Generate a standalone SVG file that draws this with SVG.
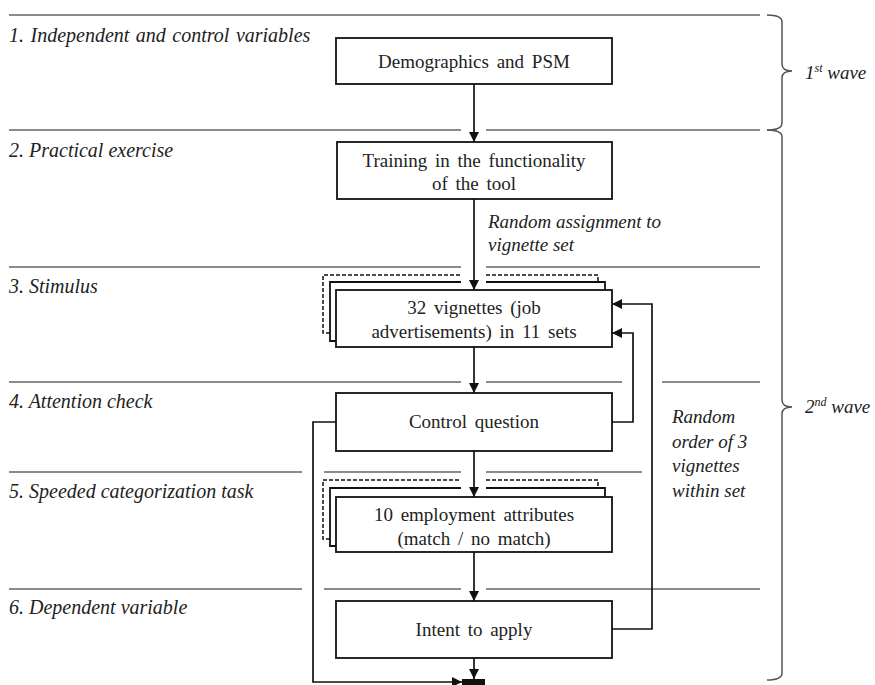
<svg xmlns="http://www.w3.org/2000/svg" width="875" height="685" viewBox="0 0 875 685">
<style>
.sep{stroke:#666;stroke-width:1.5;fill:none}
.brace{stroke:#555;stroke-width:1.5;fill:none}
.box{fill:#fff;stroke:#111;stroke-width:1.8}
.back{fill:none;stroke:#111;stroke-width:1.8}
.dash{fill:none;stroke:#111;stroke-width:1.5;stroke-dasharray:4 2}
.con{fill:none;stroke:#111;stroke-width:1.7}
.arr{marker-end:url(#ah)}
.lbl{font-family:"Liberation Serif","Times New Roman",serif;font-style:italic;font-size:20px;fill:#222}
.bt{font-family:"Liberation Serif","Times New Roman",serif;font-size:19px;fill:#222;text-anchor:middle;word-spacing:3px}
.note{font-family:"Liberation Serif","Times New Roman",serif;font-style:italic;font-size:19px;fill:#222}
</style>
<defs>
<marker id="ah" viewBox="0 0 10 10" refX="10" refY="5" markerUnits="userSpaceOnUse" markerWidth="10" markerHeight="10" orient="auto">
<path d="M0,0 L10,5 L0,10 z" fill="#111"/>
</marker>
</defs>
<rect width="875" height="685" fill="#fff"/>

<g id="separators">
<path class="sep" d="M9 15H760"/>
<path class="sep" d="M9 130H461M486 130H760"/>
<path class="sep" d="M9 267H461M486 267H760"/>
<path class="sep" d="M9 382H461M486 382H622M662 382H760"/>
<path class="sep" d="M9 472H302M324 472H461M486 472H642"/>
<path class="sep" d="M9 589H302M324 589H461M486 589H760"/>
</g>

<g id="stage-labels">
<text class="lbl" x="9" y="42" word-spacing="1.5">1. Independent and control variables</text>
<text class="lbl" x="9" y="157">2. Practical exercise</text>
<text class="lbl" x="9" y="293">3. Stimulus</text>
<text class="lbl" x="9" y="408">4. Attention check</text>
<text class="lbl" x="9" y="498">5. Speeded categorization task</text>
<text class="lbl" x="9" y="614">6. Dependent variable</text>
</g>

<g id="wave1">
<path class="brace" d="M767 15Q782 15 782 22L782 64Q782 71 792 71Q782 71 782 78L782 123Q782 130 767 130"/>
<text class="note" x="805" y="79">1<tspan font-size="12" dy="-7">st</tspan><tspan dy="7"> wave</tspan></text>
</g>
<g id="wave2">
<path class="brace" d="M767 130Q782 130 782 137L782 400Q782 407 792 407Q782 407 782 414L782 673Q782 680 767 680"/>
<text class="note" x="805" y="413">2<tspan font-size="12" dy="-7">nd</tspan><tspan dy="7"> wave</tspan></text>
</g>

<g id="connectors">
<path class="con arr" d="M474 84V142"/>
<path class="con arr" d="M474 199V290"/>
<path class="con arr" d="M474 347V393"/>
<path class="con arr" d="M474 451V497"/>
<path class="con arr" d="M474 552V601"/>
<path class="con arr" d="M474 658V679"/>
<path class="con arr" d="M612 422H633V333H612"/>
<path class="con arr" d="M612 629H652V304H612"/>
<path class="con arr" d="M336 422H313V682H462"/>
<rect x="462" y="679" width="23" height="6" fill="#111"/>
</g>

<g id="notes">
<text class="note" x="488" y="228">Random assignment to</text>
<text class="note" x="488" y="251">vignette set</text>
<text class="note" x="672" y="423">Random</text>
<text class="note" x="672" y="448">order of 3</text>
<text class="note" x="672" y="472">vignettes</text>
<text class="note" x="672" y="497">within set</text>
</g>

<g id="n1">
<rect class="box" x="336" y="38" width="276" height="46"/>
<text class="bt" x="474" y="68">Demographics and PSM</text>
</g>

<g id="n2">
<rect class="box" x="337" y="142" width="275" height="57"/>
<text class="bt" x="474" y="167">Training in the functionality</text>
<text class="bt" x="474" y="190">of the tool</text>
</g>

<g id="n3">
<path class="dash" d="M330 333H323V275H461M486 275H598V282"/>
<path class="back" d="M336 341H330V282H461M486 282H605V290"/>
<rect class="box" x="336" y="290" width="276" height="57"/>
<text class="bt" x="474" y="314">32 vignettes (job</text>
<text class="bt" x="474" y="338">advertisements) in 11 sets</text>
</g>

<g id="n4">
<rect class="box" x="336" y="393" width="276" height="58"/>
<text class="bt" x="474" y="428">Control question</text>
</g>

<g id="n5">
<path class="dash" d="M330 539H323V480H461M486 480H598V488"/>
<path class="back" d="M336 546H330V488H461M486 488H605V497"/>
<rect class="box" x="336" y="497" width="276" height="55"/>
<text class="bt" x="474" y="521">10 employment attributes</text>
<text class="bt" x="474" y="545">(match / no match)</text>
</g>

<g id="n6">
<rect class="box" x="336" y="601" width="276" height="57"/>
<text class="bt" x="474" y="636">Intent to apply</text>
</g>
</svg>
